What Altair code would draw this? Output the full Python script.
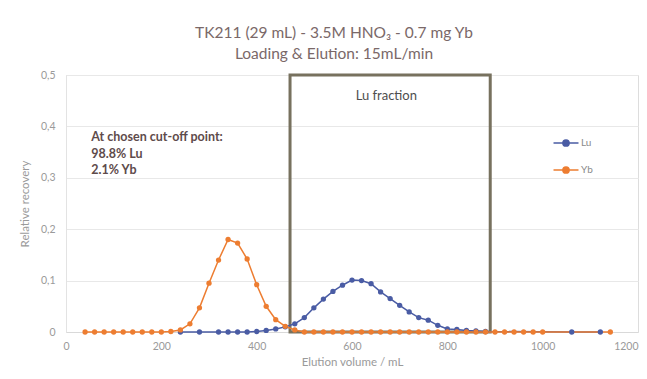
import altair as alt
import pandas as pd

# Yb series (elution volume mL, relative recovery)
yb_x = [40, 60, 80, 100, 120, 140, 160, 180, 200, 220, 240, 260, 280, 300, 320, 340, 360, 380,
        400, 420, 440, 460, 480, 500, 520, 540, 560, 580, 600, 620, 640, 660, 680, 700, 720,
        740, 760, 780, 800, 820, 840, 860, 880, 900, 920, 940, 960, 980, 1000, 1142]
yb_y = [0, 0, 0, 0, 0, 0, 0, 0, 0, 0.001, 0.004, 0.016, 0.047, 0.095, 0.14, 0.18, 0.173, 0.142,
        0.092, 0.05, 0.024, 0.011, 0.004, 0, 0, 0, 0, 0, 0, 0, 0, 0, 0, 0, 0,
        0, 0, 0, 0, 0, 0, 0, 0, 0, 0, 0, 0, 0, 0, 0]

# Lu series
lu_x = [240, 280, 320, 340, 360, 380, 400, 420, 440, 460, 480, 500, 520, 540, 560, 580, 600, 620,
        640, 660, 680, 700, 720, 740, 760, 780, 800, 820, 840, 860, 880, 1061, 1121]
lu_y = [0, 0, 0, 0, 0, 0, 0.001, 0.003, 0.006, 0.01, 0.016, 0.028, 0.047, 0.064, 0.079, 0.091,
        0.101, 0.1, 0.094, 0.078, 0.065, 0.052, 0.039, 0.028, 0.023, 0.013, 0.006, 0.005, 0.003,
        0.002, 0.001, 0, 0]

# Lu fraction cut window
cut_start = [470]
cut_end = [890]
cut_low = [0]
cut_high = [0.5]

note_lines = ["At chosen cut-off point:", "98.8% Lu", "2.1% Yb"]
note_x = [53, 53, 53]
note_y = [0.379, 0.346, 0.315]

frac_label = ["Lu fraction"]
frac_x = [672]
frac_y = [0.46]

x_ticks = [0, 200, 400, 600, 800, 1000, 1200]
y_ticks = [0, 0.1, 0.2, 0.3, 0.4, 0.5]

BLUE = "#4a5ca4"
ORANGE = "#ed7d31"
FONT = "Lato"
GREY = "#9a9a9a"

df = pd.concat([
    pd.DataFrame({"vol": lu_x, "rec": lu_y, "el": "Lu"}),
    pd.DataFrame({"vol": yb_x, "rec": yb_y, "el": "Yb"}),
])

xscale = alt.Scale(domain=[0, 1200], nice=False)
yscale = alt.Scale(domain=[0, 0.5], nice=False)

legend_sym = "M-1.6,0L1.6,0M0.4,0A0.4,0.4 0 1,1 -0.4,0A0.4,0.4 0 1,1 0.4,0Z"

color = alt.Color("el:N", scale=alt.Scale(domain=["Lu", "Yb"], range=[BLUE, ORANGE]),
                  legend=alt.Legend(title=None, orient="none", legendX=491, legendY=59,
                                    symbolType=legend_sym, symbolSize=244, symbolStrokeWidth=1.5,
                                    labelFontSize=10, labelColor="#8a8a8a", labelFont=FONT,
                                    rowPadding=11, labelOffset=6))

x_enc = alt.X("vol:Q", scale=xscale,
              axis=alt.Axis(title="Elution volume / mL", values=x_ticks, format="d",
                            grid=False, ticks=False, domainColor="#d9d9d9", labelFlush=False,
                            labelAlign={"condition": {"test": "datum.value >= 1200", "value": "right"},
                                        "value": "center"},
                            labelFontSize=10.5, labelColor=GREY, labelFont=FONT, labelPadding=9,
                            titleFontSize=11.5, titleColor=GREY, titleFont=FONT,
                            titleFontWeight="normal", titlePadding=5))
y_enc = alt.Y("rec:Q", scale=yscale,
              axis=alt.Axis(title="Relative recovery", values=y_ticks,
                            labelExpr="replace(format(datum.value, '.1~f'), '.', ',')",
                            gridColor="#e8e8e8", ticks=False, domainColor="#e3e3e3",
                            labelFontSize=10.5, labelColor=GREY, labelFont=FONT, labelPadding=11,
                            titleFontSize=11.5, titleColor=GREY, titleFont=FONT,
                            titleFontWeight="normal", titlePadding=10))

base = alt.Chart(df)
lines = base.mark_line(strokeWidth=1.5).encode(x=x_enc, y=y_enc, color=color, detail="el:N")
points = base.mark_circle(size=28, opacity=1).encode(x="vol:Q", y="rec:Q", color=color)

box_df = pd.DataFrame({"x1": cut_start, "x2": cut_end, "y1": cut_low, "y2": cut_high})
box = alt.Chart(box_df).mark_rect(fill=None, fillOpacity=0, stroke="#77715e", strokeWidth=3).encode(
    x=alt.X("x1:Q", scale=xscale), x2="x2:Q", y=alt.Y("y1:Q", scale=yscale), y2="y2:Q")

note_df = pd.DataFrame({"t": note_lines, "x": note_x, "y": note_y})
note = alt.Chart(note_df).mark_text(align="left", baseline="middle", fontSize=12.5, fontWeight="bold",
                                    font=FONT, color="#5e4b4b").encode(
    x=alt.X("x:Q", scale=xscale), y=alt.Y("y:Q", scale=yscale), text="t:N")

frac_df = pd.DataFrame({"t": frac_label, "x": frac_x, "y": frac_y})
frac = alt.Chart(frac_df).mark_text(align="center", baseline="middle", fontSize=13,
                                    font=FONT, color="#4e4e4e").encode(
    x=alt.X("x:Q", scale=xscale), y=alt.Y("y:Q", scale=yscale), text="t:N")

chart = alt.layer(box, lines, points, note, frac).properties(
    width=572, height=257,
    padding={"left": 58, "top": 67, "right": 1, "bottom": 44},
    autosize=alt.AutoSizeParams(type="none"),
    title=alt.Title(["TK211 (29 mL) - 3.5M HNO₃ - 0.7 mg Yb", "Loading & Elution: 15mL/min"],
                    fontSize=15.5, font=FONT, fontWeight="normal", color="#7a6868",
                    anchor="middle", dx=-18, offset=8, lineHeight=21),
).configure_view(stroke=None).configure(background="white")

chart.save("out.html", embed_options={"renderer": "svg", "actions": False})
